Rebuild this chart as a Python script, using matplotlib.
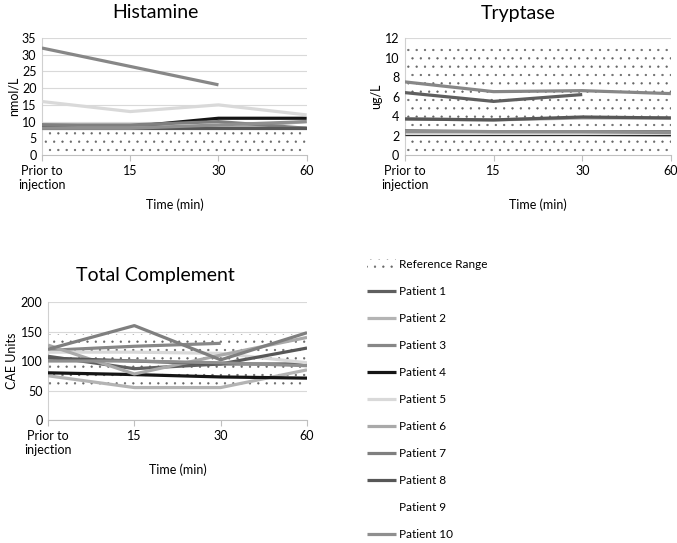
import numpy as np
import matplotlib
matplotlib.use("Agg")
import matplotlib.pyplot as plt

plt.rcParams['font.family'] = ['Lato', 'DejaVu Sans']
plt.rcParams['hatch.linewidth'] = 0.4
plt.rcParams['hatch.color'] = '#666666'

nan = np.nan
times = ["Prior to\ninjection", "15", "30", "60"]
patients = ["Patient %d" % i for i in range(1, 11)]
colors = ['#5f5f5f', '#b4b4b4', '#878787', '#151515', '#d9d9d9',
          '#a9a9a9', '#7f7f7f', '#575757', '#ffffff', '#8f8f8f']

# reference ranges (low, high)
hist_ref = (0, 7.5)
tryp_ref = (0, 11)
comp_ref = (60, 145)

histamine = [
    [9, 8.5, 8, 8],
    [8, 8, 8, 10],
    [32, 26.5, 21, nan],
    [8.5, 8.5, 11, 11],
    [16, 13, 15, 12],
    [8, 8.5, 8, 8],
    [9, 9, 10, 8],
    [8, 8, 8, 8],
    [nan, nan, nan, nan],
    [8, 8, 9, 10],
]
tryptase = [
    [6.4, 5.5, 6.2, nan],
    [2.1, 2.1, 2.1, 2.0],
    [7.5, 6.5, 6.6, 6.3],
    [2.2, 2.2, 2.2, 2.2],
    [2.3, 2.3, 2.3, 2.3],
    [3.7, 3.6, 3.8, 3.8],
    [2.5, 2.4, 2.4, 2.4],
    [3.7, 3.6, 3.9, 3.8],
    [nan, nan, nan, nan],
    [2.4, 2.4, 2.4, 2.3],
]
complement = [
    [108, 87, 95, 95],
    [75, 55, 55, 85],
    [118, 125, 130, nan],
    [80, 77, 73, 71],
    [115, 115, 113, 97],
    [127, 78, 110, 140],
    [120, 160, 102, 148],
    [105, 100, 95, 122],
    [nan, nan, nan, nan],
    [100, 100, 97, 92],
]

fig = plt.figure(figsize=(6.77, 5.43), dpi=100)


def panel(rect, data, ref, ylim, step, ylabel):
    ax = fig.add_axes(rect)
    x = np.arange(len(times))
    ax.fill_between(x, ref[0], ref[1], facecolor='white', edgecolor='none',
                    hatch='..', lw=0, zorder=1, label='Reference Range')
    for vals, c, name in zip(data, colors, patients):
        ax.plot(x, vals, color=c, lw=2.3, solid_capstyle='butt', zorder=3, label=name)
    ax.set_xlim(0, 3)
    ax.set_ylim(*ylim)
    ax.set_yticks(np.arange(ylim[0], ylim[1] + step / 2, step))
    ax.set_xticks(x)
    ax.set_xticklabels(times)
    ax.yaxis.grid(True, color='#d9d9d9', lw=0.8, zorder=0)
    ax.set_axisbelow(True)
    for s in ['top', 'right']:
        ax.spines[s].set_visible(False)
    ax.spines['left'].set_color('#d0d0d0')
    ax.spines['bottom'].set_color('#c0c0c0')
    ax.tick_params(axis='y', length=0, labelsize=9, pad=4)
    ax.tick_params(axis='x', length=4, color='#c0c0c0', labelsize=9, pad=3)
    ax.set_ylabel(ylabel, fontsize=9, labelpad=2)
    for lab in ax.get_xticklabels():
        lab.set_linespacing(1.25)
    return ax


ax1 = panel([0.062, 0.7145, 0.391, 0.2155], histamine, hist_ref, (0, 35), 5, "nmol/L")
ax2 = panel([0.598, 0.7145, 0.393, 0.2155], tryptase, tryp_ref, (0, 12), 2, "ug/L")
ax3 = panel([0.0709, 0.2265, 0.3826, 0.2173], complement, comp_ref, (0, 200), 50, "CAE Units")

fig.text(155 / 677, 1 - 13 / 543, "Histamine", ha='center', va='center', fontsize=14)
fig.text(518 / 677, 1 - 13 / 543, "Tryptase", ha='center', va='center', fontsize=14)
fig.text(155 / 677, 1 - 275 / 543, "Total Complement", ha='center', va='center', fontsize=14)

fig.text(175 / 677, 1 - 205 / 543, "Time (min)", ha='center', va='center', fontsize=9)
fig.text(538 / 677, 1 - 205 / 543, "Time (min)", ha='center', va='center', fontsize=9)
fig.text(178 / 677, 1 - 470 / 543, "Time (min)", ha='center', va='center', fontsize=9)

handles, labels = ax3.get_legend_handles_labels()
fig.legend(handles, labels, loc='upper left', bbox_to_anchor=(362 / 677, 1 - 254 / 543),
           frameon=False, fontsize=8.5, handlelength=2.5, handletextpad=0.2,
           labelspacing=1.36, borderaxespad=0)

fig.savefig("out.png", dpi=100)
